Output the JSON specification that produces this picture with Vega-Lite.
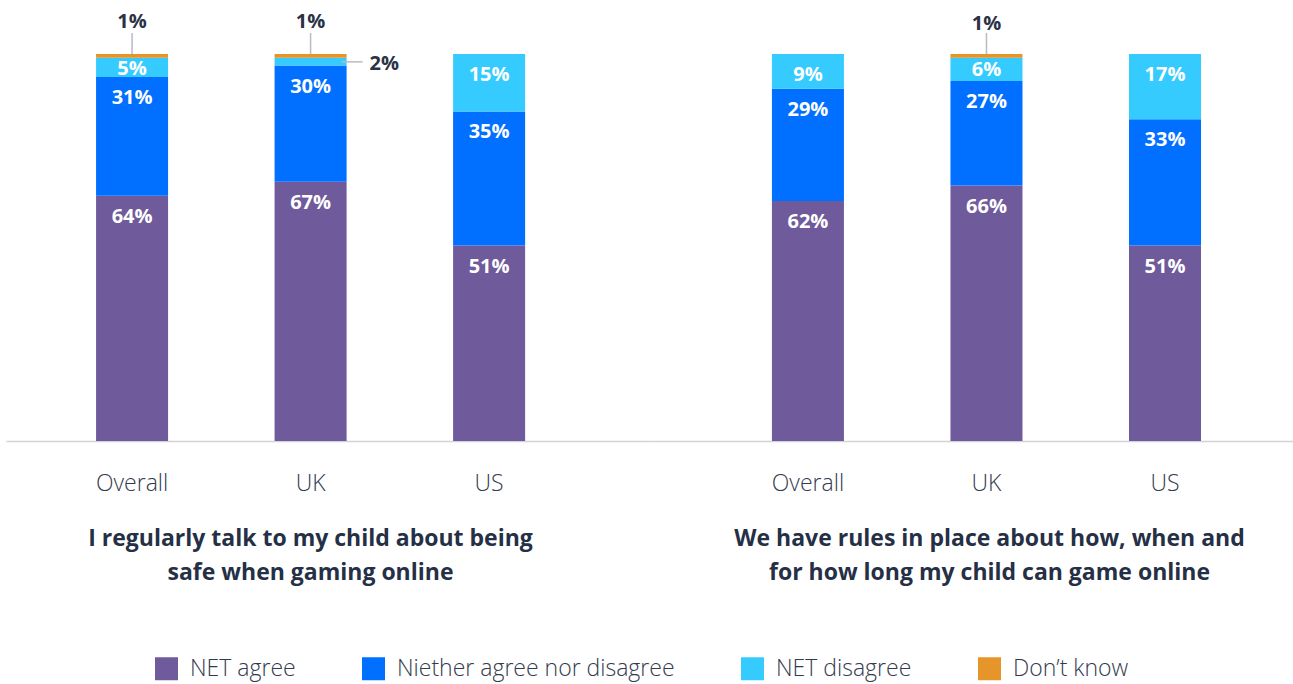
{
  "$schema": "https://vega.github.io/schema/vega-lite/v6.json",
  "padding": {"left": 6, "top": 12, "right": 0, "bottom": 3},
  "background": "white",
  "config": {
    "view": {"stroke": null},
    "font": "Open Sans",
    "axis": {"labelFont": "Open Sans", "titleFont": "Open Sans"},
    "legend": {"labelFont": "Open Sans"}
  },
  "data": {
    "values": [
      {"question": "talk", "country": "Overall", "response": "NET agree", "rank": 1, "value": 64},
      {"question": "talk", "country": "Overall", "response": "Niether agree nor disagree", "rank": 2, "value": 31},
      {"question": "talk", "country": "Overall", "response": "NET disagree", "rank": 3, "value": 5},
      {"question": "talk", "country": "Overall", "response": "Don’t know", "rank": 4, "value": 1},
      {"question": "talk", "country": "UK", "response": "NET agree", "rank": 1, "value": 67},
      {"question": "talk", "country": "UK", "response": "Niether agree nor disagree", "rank": 2, "value": 30},
      {"question": "talk", "country": "UK", "response": "NET disagree", "rank": 3, "value": 2},
      {"question": "talk", "country": "UK", "response": "Don’t know", "rank": 4, "value": 1},
      {"question": "talk", "country": "US", "response": "NET agree", "rank": 1, "value": 51},
      {"question": "talk", "country": "US", "response": "Niether agree nor disagree", "rank": 2, "value": 35},
      {"question": "talk", "country": "US", "response": "NET disagree", "rank": 3, "value": 15},
      {"question": "rules", "country": "Overall", "response": "NET agree", "rank": 1, "value": 62},
      {"question": "rules", "country": "Overall", "response": "Niether agree nor disagree", "rank": 2, "value": 29},
      {"question": "rules", "country": "Overall", "response": "NET disagree", "rank": 3, "value": 9},
      {"question": "rules", "country": "UK", "response": "NET agree", "rank": 1, "value": 66},
      {"question": "rules", "country": "UK", "response": "Niether agree nor disagree", "rank": 2, "value": 27},
      {"question": "rules", "country": "UK", "response": "NET disagree", "rank": 3, "value": 6},
      {"question": "rules", "country": "UK", "response": "Don’t know", "rank": 4, "value": 1},
      {"question": "rules", "country": "US", "response": "NET agree", "rank": 1, "value": 51},
      {"question": "rules", "country": "US", "response": "Niether agree nor disagree", "rank": 2, "value": 33},
      {"question": "rules", "country": "US", "response": "NET disagree", "rank": 3, "value": 17}
    ]
  },
  "spacing": 0,
  "hconcat": [
    {
      "width": 644,
      "height": 387,
      "transform": [
        {"filter": "datum.question === 'talk'"},
        {"stack": "value", "groupby": ["country"], "sort": [{"field": "rank", "order": "ascending"}], "offset": "normalize", "as": ["y0", "y1"]},
        {"calculate": "datum.value + '%'", "as": "label"}
      ],
      "encoding": {
        "x": {
          "field": "country", "type": "nominal", "sort": ["Overall", "UK", "US"],
          "scale": {"paddingInner": 0.5966, "paddingOuter": 0.602, "align": 0.419},
          "axis": {
            "title": ["I regularly talk to my child about being", "safe when gaming online"],
            "titleX": 304,
            "labelAngle": 0, "ticks": false, "domainColor": "#d2d3da", "domainWidth": 1.5,
            "labelFontSize": 23, "labelFontWeight": 300, "labelColor": "#333b4e", "labelPadding": 31,
            "titleFontSize": 23, "titleFontWeight": "bold", "titleColor": "#252f45", "titleLineHeight": 34, "titlePadding": 32
          }
        }
      },
      "layer": [
        {
          "mark": {"type": "bar"},
          "encoding": {
            "y": {"field": "y1", "type": "quantitative", "scale": {"domain": [0, 1]}, "axis": null},
            "y2": {"field": "y0"},
            "color": {
              "field": "response", "type": "nominal",
              "scale": {"domain": ["NET agree", "Niether agree nor disagree", "NET disagree", "Don’t know"], "range": ["#6f5a9b", "#016fff", "#35cbfe", "#e5952a"]},
              "legend": {
                "orient": "none", "legendX": 149, "legendY": 603, "direction": "horizontal", "title": null,
                "symbolType": "square", "symbolSize": 529, "symbolStrokeWidth": 0, "symbolOpacity": 1,
                "labelFontSize": 23, "labelFontWeight": 300, "labelColor": "#333b4e", "labelOffset": 12,
                "columnPadding": 66, "labelLimit": 400
              }
            }
          }
        },
        {
          "transform": [{"filter": "datum.value >= 9"}],
          "mark": {"type": "text", "color": "white", "fontWeight": "bold", "fontSize": 20, "baseline": "middle", "dy": 21},
          "encoding": {"y": {"field": "y1", "type": "quantitative"}, "text": {"field": "label"}}
        },
        {
          "transform": [{"filter": "datum.value >= 3 && datum.value < 9"}],
          "mark": {"type": "text", "color": "white", "fontWeight": "bold", "fontSize": 20, "baseline": "middle", "dy": 11},
          "encoding": {"y": {"field": "y1", "type": "quantitative"}, "text": {"field": "label"}}
        },
        {
          "transform": [{"filter": "datum.value == 1"}],
          "mark": {"type": "rule", "color": "#b8bbc3", "strokeWidth": 1.5, "y2Offset": -21},
          "encoding": {"y": {"field": "y1", "type": "quantitative"}, "y2": {"field": "y1"}}
        },
        {
          "transform": [{"filter": "datum.value == 1"}],
          "mark": {"type": "text", "color": "#2b3245", "fontWeight": "bold", "fontSize": 20, "baseline": "middle", "dy": -32},
          "encoding": {"y": {"field": "y1", "type": "quantitative"}, "text": {"field": "label"}}
        },
        {
          "transform": [{"filter": "datum.value == 2"}],
          "mark": {"type": "rule", "color": "#b8bbc3", "strokeWidth": 1.5, "xOffset": -5, "x2Offset": 16, "yOffset": 4},
          "encoding": {
            "x": {"field": "country", "type": "nominal", "sort": ["Overall", "UK", "US"], "bandPosition": 1},
            "x2": {"field": "country", "bandPosition": 1},
            "y": {"field": "y1", "type": "quantitative"}
          }
        },
        {
          "transform": [{"filter": "datum.value == 2"}],
          "mark": {"type": "text", "color": "#2b3245", "fontWeight": "bold", "fontSize": 20, "baseline": "middle", "align": "left", "dx": 23, "dy": 6},
          "encoding": {
            "x": {"field": "country", "type": "nominal", "sort": ["Overall", "UK", "US"], "bandPosition": 1},
            "y": {"field": "y1", "type": "quantitative"},
            "text": {"field": "label"}
          }
        }
      ]
    },
    {
      "width": 643,
      "height": 387,
      "transform": [
        {"filter": "datum.question === 'rules'"},
        {"stack": "value", "groupby": ["country"], "sort": [{"field": "rank", "order": "ascending"}], "offset": "normalize", "as": ["y0", "y1"]},
        {"calculate": "datum.value + '%'", "as": "label"}
      ],
      "encoding": {
        "x": {
          "field": "country", "type": "nominal", "sort": ["Overall", "UK", "US"],
          "scale": {"paddingInner": 0.5966, "paddingOuter": 0.599, "align": 0.57},
          "axis": {
            "title": ["We have rules in place about how, when and", "for how long my child can game online"],
            "titleX": 339,
            "labelAngle": 0, "ticks": false, "domainColor": "#d2d3da", "domainWidth": 1.5,
            "labelFontSize": 23, "labelFontWeight": 300, "labelColor": "#333b4e", "labelPadding": 31,
            "titleFontSize": 23, "titleFontWeight": "bold", "titleColor": "#252f45", "titleLineHeight": 34, "titlePadding": 32
          }
        }
      },
      "layer": [
        {
          "mark": {"type": "bar"},
          "encoding": {
            "y": {"field": "y1", "type": "quantitative", "scale": {"domain": [0, 1]}, "axis": null},
            "y2": {"field": "y0"},
            "color": {"field": "response", "type": "nominal"}
          }
        },
        {
          "transform": [{"filter": "datum.value >= 9"}],
          "mark": {"type": "text", "color": "white", "fontWeight": "bold", "fontSize": 20, "baseline": "middle", "dy": 21},
          "encoding": {"y": {"field": "y1", "type": "quantitative"}, "text": {"field": "label"}}
        },
        {
          "transform": [{"filter": "datum.value >= 3 && datum.value < 9"}],
          "mark": {"type": "text", "color": "white", "fontWeight": "bold", "fontSize": 20, "baseline": "middle", "dy": 12},
          "encoding": {"y": {"field": "y1", "type": "quantitative"}, "text": {"field": "label"}}
        },
        {
          "transform": [{"filter": "datum.value == 1"}],
          "mark": {"type": "rule", "color": "#b8bbc3", "strokeWidth": 1.5, "y2Offset": -21},
          "encoding": {"y": {"field": "y1", "type": "quantitative"}, "y2": {"field": "y1"}}
        },
        {
          "transform": [{"filter": "datum.value == 1"}],
          "mark": {"type": "text", "color": "#2b3245", "fontWeight": "bold", "fontSize": 20, "baseline": "middle", "dy": -30},
          "encoding": {"y": {"field": "y1", "type": "quantitative"}, "text": {"field": "label"}}
        }
      ]
    }
  ]
}
